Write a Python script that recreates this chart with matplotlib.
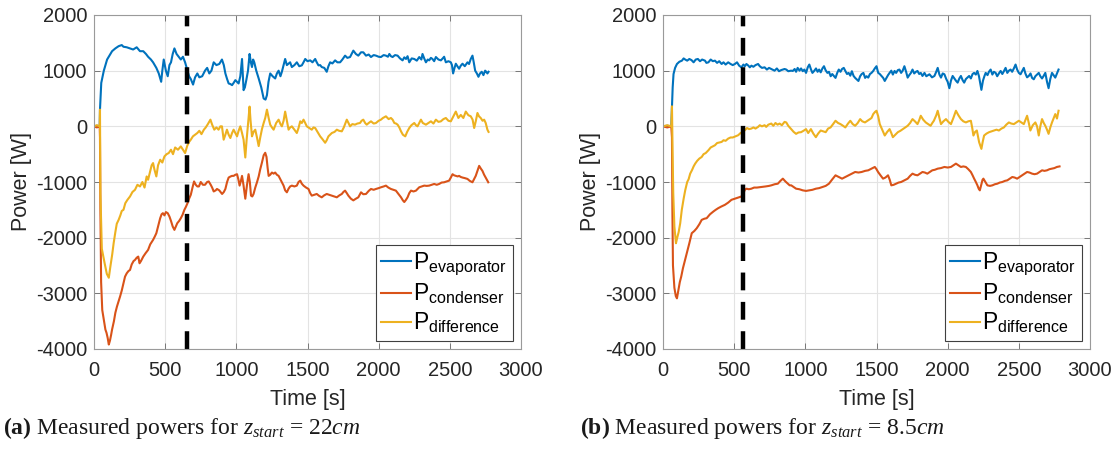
import numpy as np
import matplotlib.pyplot as plt

plt.rcParams["font.family"] = ["Liberation Sans", "DejaVu Sans"]
plt.rcParams["axes.unicode_minus"] = False
plt.rcParams["mathtext.fontset"] = "custom"
plt.rcParams["mathtext.rm"] = "Liberation Serif"
plt.rcParams["mathtext.it"] = "Liberation Serif:italic"
plt.rcParams["mathtext.bf"] = "Liberation Serif:bold"
plt.rcParams["mathtext.sf"] = "Liberation Sans"

# (time [s], power [W]) samples, run (a): z_start = 22 cm
evap_a = [(0, 0), (20, 10), (40, 0), (42, 300), (51, 780), (69, 1000), (92, 1200), (127, 1350), (150, 1400),
          (173, 1440), (195, 1460), (207, 1430), (230, 1420), (253, 1400), (275, 1380), (300, 1420), (323, 1350),
          (346, 1350), (365, 1300), (380, 1250), (400, 1200), (415, 1150), (438, 1050), (455, 950), (472, 800),
          (480, 1000), (490, 1200), (505, 1000), (518, 900), (530, 1100), (541, 1150), (553, 1300), (565, 1400),
          (580, 1300), (595, 1250), (610, 1200), (625, 1250), (640, 1150), (657, 1000), (668, 900), (680, 850),
          (696, 750), (710, 880), (726, 950), (740, 880), (760, 900), (780, 1000), (795, 1050), (810, 950),
          (825, 1000), (841, 1150), (860, 1100), (880, 1120), (899, 1200), (912, 1100), (923, 950), (935, 850),
          (946, 770), (958, 760), (970, 740), (981, 780), (993, 830), (1005, 800), (1016, 770), (1028, 900),
          (1040, 1210), (1051, 650), (1060, 700), (1070, 830), (1082, 1000), (1093, 1300), (1102, 1150),
          (1110, 1065), (1118, 1200), (1126, 1150), (1140, 1000), (1157, 860), (1175, 700), (1192, 500),
          (1205, 480), (1215, 560), (1226, 800), (1238, 950), (1255, 900), (1273, 860), (1285, 950), (1297, 1000),
          (1310, 900), (1320, 980), (1332, 1100), (1343, 1210), (1355, 1100), (1367, 1125), (1378, 1150),
          (1390, 1065), (1408, 1100), (1425, 1150), (1442, 1080), (1460, 1095), (1472, 1150), (1484, 1210),
          (1500, 1170), (1519, 1185), (1535, 1150), (1554, 1210), (1565, 1150), (1577, 1095), (1589, 1100),
          (1600, 1065), (1618, 1050), (1635, 980), (1647, 1080), (1659, 1150), (1675, 1130), (1694, 1185),
          (1710, 1150), (1729, 1150), (1745, 1200), (1764, 1270), (1780, 1230), (1799, 1245), (1810, 1300),
          (1822, 1360), (1840, 1300), (1857, 1270), (1876, 1330), (1892, 1330), (1911, 1270), (1930, 1290),
          (1946, 1245), (1965, 1280), (1981, 1270), (2000, 1250), (2016, 1245), (2035, 1280), (2051, 1270),
          (2065, 1250), (2075, 1300), (2086, 1260), (2098, 1245), (2115, 1280), (2133, 1270), (2150, 1220),
          (2168, 1185), (2180, 1240), (2192, 1210), (2203, 1260), (2215, 1150), (2232, 1220), (2250, 1210),
          (2268, 1180), (2285, 1245), (2300, 1200), (2308, 1300), (2320, 1220), (2332, 1150), (2345, 1200),
          (2355, 1185), (2367, 1230), (2378, 1210), (2390, 1170), (2402, 1245), (2420, 1200), (2437, 1185),
          (2450, 1220), (2460, 1250), (2472, 1150), (2490, 1170), (2507, 1150), (2515, 1100), (2523, 950),
          (2533, 1050), (2542, 1125), (2553, 1080), (2565, 1035), (2577, 1090), (2589, 1125), (2605, 1080),
          (2624, 1150), (2635, 1120), (2647, 1210), (2659, 1270), (2668, 1150), (2678, 1000), (2690, 950),
          (2701, 890), (2712, 950), (2724, 980), (2736, 920), (2748, 1000), (2756, 980), (2764, 950), (2772, 980)]

cond_a = [(0, 0), (20, -20), (40, 0), (42, -200), (45, -1500), (50, -2800), (58, -3300), (69, -3470), (80, -3650),
          (88, -3710), (96, -3800), (104, -3920), (112, -3850), (120, -3750), (127, -3650), (140, -3500),
          (150, -3350), (161, -3240), (172, -3150), (184, -3050), (195, -2950), (207, -2820), (218, -2700),
          (230, -2640), (242, -2600), (253, -2580), (265, -2480), (278, -2420), (288, -2400), (300, -2360),
          (311, -2340), (320, -2460), (330, -2420), (346, -2340), (362, -2280), (380, -2220), (395, -2120),
          (415, -2040), (427, -1980), (438, -1920), (450, -1800), (465, -1650), (475, -1580), (484, -1560),
          (495, -1600), (505, -1540), (518, -1560), (530, -1620), (541, -1700), (553, -1800), (565, -1860),
          (575, -1800), (585, -1740), (598, -1700), (610, -1650), (622, -1590), (635, -1500), (645, -1450),
          (657, -1380), (668, -1300), (680, -1230), (692, -1100), (703, -990), (715, -1050), (726, -1080),
          (737, -1080), (750, -1000), (765, -1050), (780, -1050), (795, -1000), (806, -990), (820, -1050),
          (830, -1100), (841, -1170), (855, -1150), (864, -1125), (880, -1150), (900, -1215), (912, -1180),
          (923, -1125), (935, -1000), (946, -920), (960, -900), (970, -890), (981, -890), (993, -870),
          (1005, -860), (1014, -950), (1023, -1065), (1032, -980), (1040, -890), (1050, -1050), (1063, -1300),
          (1075, -1050), (1086, -860), (1095, -1000), (1103, -1245), (1112, -1260), (1121, -1215), (1133, -1100),
          (1145, -1005), (1157, -900), (1168, -770), (1180, -650), (1192, -520), (1203, -475), (1212, -550),
          (1220, -750), (1227, -890), (1238, -870), (1250, -830), (1262, -850), (1273, -830), (1285, -870),
          (1297, -890), (1315, -980), (1332, -1065), (1343, -1150), (1355, -1185), (1367, -1120), (1378, -1080),
          (1390, -1065), (1408, -1080), (1425, -1065), (1437, -1000), (1449, -975), (1460, -1030), (1472, -1065),
          (1490, -1100), (1507, -1125), (1519, -1200), (1530, -1245), (1548, -1230), (1565, -1215), (1582, -1250),
          (1600, -1275), (1617, -1240), (1635, -1215), (1652, -1230), (1671, -1245), (1688, -1260), (1706, -1275),
          (1724, -1240), (1741, -1215), (1752, -1180), (1764, -1155), (1776, -1200), (1787, -1245), (1805, -1300),
          (1822, -1330), (1840, -1300), (1857, -1275), (1876, -1185), (1892, -1220), (1911, -1215), (1930, -1160),
          (1946, -1125), (1965, -1140), (1981, -1125), (2000, -1110), (2016, -1095), (2035, -1080), (2051, -1065),
          (2068, -1100), (2086, -1125), (2104, -1140), (2121, -1155), (2140, -1220), (2157, -1275), (2170, -1330),
          (2180, -1360), (2192, -1320), (2203, -1275), (2215, -1200), (2227, -1155), (2245, -1170), (2262, -1155),
          (2275, -1120), (2285, -1095), (2302, -1080), (2320, -1065), (2338, -1070), (2355, -1065), (2372, -1050),
          (2390, -1035), (2408, -1050), (2425, -1035), (2442, -1010), (2460, -1005), (2478, -990), (2495, -975),
          (2507, -920), (2519, -860), (2530, -880), (2542, -890), (2555, -900), (2565, -890), (2577, -910),
          (2589, -920), (2605, -930), (2624, -945), (2640, -980), (2659, -1005), (2670, -950), (2682, -890),
          (2694, -800), (2706, -710), (2718, -760), (2729, -800), (2741, -870), (2752, -920), (2760, -960),
          (2770, -1005)]

diff_a = [(0, 0), (20, 20), (40, 0), (42, 300), (45, -1200), (55, -2200), (74, -2450), (90, -2650), (104, -2720),
          (115, -2520), (128, -2300), (138, -2100), (150, -1900), (160, -1750), (173, -1680), (185, -1600),
          (195, -1520), (207, -1500), (220, -1380), (235, -1320), (253, -1260), (270, -1180), (288, -1140),
          (305, -1050), (323, -1080), (340, -1000), (355, -1100), (370, -900), (380, -960), (395, -800),
          (405, -700), (415, -660), (425, -780), (438, -900), (450, -700), (465, -600), (480, -650), (495, -540),
          (510, -500), (525, -480), (541, -420), (555, -500), (570, -380), (590, -420), (610, -360), (625, -420),
          (640, -480), (655, -350), (668, -280), (680, -240), (695, -180), (710, -150), (726, -120), (740, -80),
          (755, -140), (772, -60), (785, -20), (800, 40), (818, 120), (830, 30), (845, -60), (860, -20),
          (875, -60), (888, 0), (899, 0), (911, -240), (923, -150), (934, -60), (946, -150), (958, -210),
          (970, -120), (981, -60), (993, -120), (1005, -180), (1016, -80), (1028, 0), (1040, -120), (1051, -240),
          (1063, -560), (1072, -250), (1079, -60), (1086, 150), (1093, 355), (1100, 100), (1110, -180),
          (1121, -100), (1133, -60), (1145, -200), (1157, -355), (1168, -200), (1180, -50), (1192, 60),
          (1203, 150), (1215, 300), (1227, 150), (1238, 30), (1250, -20), (1262, -60), (1280, 60), (1297, 120),
          (1310, 40), (1320, 0), (1332, 100), (1343, 265), (1355, 100), (1367, -60), (1378, -20), (1390, 0),
          (1408, -60), (1425, -120), (1437, -30), (1449, 90), (1460, 60), (1472, 120), (1484, 60), (1495, 0),
          (1512, -30), (1530, -60), (1542, -20), (1554, -30), (1570, -100), (1589, -180), (1605, -230),
          (1624, -295), (1635, -250), (1647, -180), (1659, -150), (1671, -120), (1690, -100), (1706, -60),
          (1722, -80), (1741, -90), (1755, -20), (1764, 40), (1776, 120), (1788, 60), (1799, 0), (1815, 40),
          (1834, 30), (1850, 50), (1869, 60), (1880, 100), (1892, 120), (1905, 60), (1916, 30), (1930, 60),
          (1946, 90), (1965, 50), (1981, 60), (2000, 100), (2016, 120), (2030, 150), (2051, 180), (2070, 130),
          (2086, 150), (2098, 120), (2110, 60), (2122, 50), (2133, 30), (2145, -20), (2157, -90), (2170, -150),
          (2187, -180), (2200, -100), (2215, -30), (2230, 20), (2250, 60), (2262, 20), (2273, 0), (2285, 60),
          (2297, 120), (2310, 60), (2332, 30), (2350, 60), (2367, 90), (2385, 50), (2402, 120), (2420, 80),
          (2437, 90), (2455, 130), (2472, 150), (2490, 100), (2507, 90), (2525, 180), (2542, 265), (2560, 150),
          (2577, 205), (2595, 150), (2612, 265), (2630, 200), (2647, 180), (2660, 120), (2671, -30), (2683, 100),
          (2694, 240), (2705, 180), (2717, 150), (2730, 100), (2741, 120), (2752, 60), (2764, -60), (2772, -100)]

# run (b): z_start = 8.5 cm
evap_b = [(0, 0), (30, 10), (58, 0), (63, 375), (68, 700), (74, 940), (85, 1050), (98, 1120), (115, 1160),
          (133, 1180), (145, 1220), (156, 1200), (170, 1180), (185, 1210), (200, 1190), (215, 1150), (230, 1200),
          (245, 1210), (260, 1170), (275, 1200), (295, 1180), (305, 1140), (319, 1150), (335, 1200), (350, 1170),
          (365, 1180), (380, 1140), (395, 1170), (412, 1120), (425, 1150), (440, 1110), (458, 1150), (475, 1120),
          (490, 1100), (505, 1120), (520, 1150), (535, 1090), (551, 1060), (565, 1110), (575, 1080), (586, 1120),
          (600, 1090), (610, 1060), (621, 1090), (635, 1070), (650, 1100), (668, 1120), (680, 1080), (695, 1050),
          (714, 1060), (730, 1020), (745, 1050), (760, 1030), (784, 1000), (800, 1040), (815, 990), (830, 1010),
          (854, 1030), (866, 1020), (880, 990), (900, 1000), (912, 995), (925, 1030), (935, 980), (946, 1050),
          (959, 1000), (970, 1040), (982, 990), (993, 1020), (1005, 960), (1017, 1060), (1028, 1110), (1040, 1020),
          (1050, 960), (1062, 995), (1075, 1040), (1086, 980), (1097, 1020), (1108, 970), (1120, 1040),
          (1131, 1080), (1142, 1010), (1155, 960), (1166, 980), (1178, 900), (1189, 940), (1200, 905), (1212, 870),
          (1224, 960), (1235, 1020), (1247, 980), (1258, 1030), (1270, 1050), (1282, 990), (1293, 940),
          (1304, 960), (1316, 910), (1327, 990), (1339, 905), (1350, 870), (1362, 840), (1373, 815), (1385, 900),
          (1396, 940), (1408, 960), (1420, 870), (1430, 900), (1442, 875), (1454, 940), (1465, 960), (1477, 995),
          (1488, 1040), (1500, 1080), (1512, 960), (1523, 940), (1535, 905), (1547, 870), (1558, 815), (1570, 870),
          (1581, 920), (1592, 960), (1604, 1000), (1615, 930), (1627, 995), (1638, 960), (1650, 1010),
          (1661, 1020), (1673, 960), (1684, 1000), (1696, 1080), (1708, 980), (1719, 875), (1730, 920),
          (1742, 960), (1753, 1020), (1765, 950), (1777, 980), (1788, 995), (1800, 940), (1811, 960), (1823, 905),
          (1837, 960), (1850, 900), (1872, 935), (1890, 880), (1907, 905), (1918, 970), (1930, 1050), (1942, 930),
          (1953, 875), (1965, 950), (1977, 935), (1990, 850), (2000, 800), (2012, 685), (2023, 820), (2035, 905),
          (2047, 860), (2058, 820), (2070, 785), (2082, 860), (2093, 905), (2105, 830), (2116, 785), (2128, 850),
          (2140, 880), (2151, 905), (2163, 860), (2175, 940), (2186, 960), (2198, 930), (2209, 995), (2220, 900),
          (2228, 780), (2237, 655), (2248, 820), (2258, 900), (2267, 960), (2280, 920), (2290, 980), (2302, 1020),
          (2314, 930), (2325, 980), (2337, 960), (2348, 900), (2360, 950), (2372, 995), (2384, 940), (2395, 990),
          (2407, 1050), (2419, 960), (2430, 1000), (2442, 1020), (2453, 980), (2465, 1040), (2477, 1110),
          (2488, 1020), (2500, 960), (2512, 935), (2523, 990), (2535, 1050), (2546, 950), (2558, 880), (2570, 905),
          (2582, 950), (2593, 870), (2605, 845), (2616, 900), (2628, 930), (2640, 960), (2651, 900), (2663, 860),
          (2674, 905), (2686, 960), (2698, 800), (2709, 685), (2721, 850), (2733, 960), (2744, 920), (2756, 875),
          (2768, 950), (2779, 1020)]

cond_b = [(0, 0), (30, -20), (58, 0), (63, -200), (66, -1500), (70, -2500), (80, -2900), (90, -3050), (98, -3090),
          (108, -2950), (118, -2800), (128, -2700), (140, -2550), (155, -2400), (167, -2280), (185, -2100),
          (202, -1920), (220, -1880), (237, -1830), (255, -1760), (272, -1680), (290, -1660), (307, -1650),
          (330, -1580), (354, -1530), (370, -1500), (388, -1470), (410, -1440), (435, -1410), (458, -1370),
          (481, -1320), (505, -1300), (530, -1280), (551, -1260), (565, -1200), (575, -1140), (586, -1120),
          (603, -1130), (621, -1120), (640, -1100), (660, -1100), (691, -1090), (720, -1080), (745, -1070),
          (761, -1060), (785, -1040), (807, -1030), (825, -980), (842, -940), (860, -990), (877, -1030),
          (890, -1060), (901, -1060), (918, -1090), (935, -1120), (958, -1130), (982, -1150), (1005, -1160),
          (1028, -1150), (1050, -1140), (1074, -1120), (1097, -1110), (1120, -1090), (1143, -1070), (1166, -1030),
          (1190, -950), (1212, -880), (1235, -910), (1258, -940), (1281, -910), (1304, -880), (1327, -850),
          (1350, -820), (1373, -830), (1396, -820), (1420, -800), (1442, -790), (1465, -760), (1488, -730),
          (1500, -770), (1511, -820), (1528, -880), (1546, -940), (1563, -920), (1581, -880), (1593, -960),
          (1604, -1060), (1621, -1050), (1638, -1030), (1655, -1010), (1673, -1000), (1696, -970), (1719, -940),
          (1736, -890), (1753, -850), (1770, -870), (1788, -880), (1805, -850), (1823, -820), (1840, -830),
          (1857, -850), (1875, -820), (1892, -790), (1910, -780), (1930, -760), (1953, -750), (1977, -730),
          (2000, -740), (2023, -730), (2040, -700), (2058, -670), (2075, -700), (2093, -730), (2110, -720),
          (2128, -730), (2145, -770), (2163, -820), (2175, -880), (2186, -940), (2198, -1000), (2209, -1060),
          (2218, -1120), (2226, -1150), (2236, -1050), (2245, -960), (2251, -940), (2265, -1000), (2279, -1060),
          (2297, -1070), (2314, -1060), (2332, -1040), (2349, -1030), (2366, -1010), (2384, -1000), (2402, -980),
          (2419, -970), (2436, -940), (2454, -910), (2471, -920), (2488, -940), (2506, -910), (2523, -880),
          (2540, -850), (2558, -820), (2575, -830), (2593, -850), (2610, -860), (2628, -850), (2645, -820),
          (2663, -790), (2680, -800), (2698, -790), (2715, -770), (2733, -760), (2750, -750), (2767, -730),
          (2786, -720)]

diff_b = [(0, 0), (30, 20), (58, 0), (63, 360), (67, -400), (72, -1200), (80, -1800), (91, -2100), (100, -2000),
          (110, -1900), (121, -1740), (132, -1500), (145, -1300), (156, -1150), (170, -1000), (180, -950),
          (191, -850), (205, -780), (215, -720), (226, -670), (240, -620), (255, -580), (272, -550), (285, -500),
          (300, -480), (319, -430), (335, -380), (350, -360), (365, -340), (380, -300), (395, -290), (412, -280),
          (425, -250), (440, -260), (458, -220), (475, -200), (490, -200), (510, -180), (528, -160), (545, -120),
          (560, -100), (575, -70), (590, -30), (605, -50), (621, -40), (635, -20), (650, -40), (668, -10),
          (680, 20), (695, 0), (714, 20), (725, -10), (740, 30), (761, 50), (775, 10), (790, 60), (805, 30),
          (819, 50), (835, 20), (854, 80), (866, 70), (880, 10), (901, -50), (918, -100), (935, -135), (952, -110),
          (970, -105), (987, -80), (1005, -50), (1020, -120), (1039, -50), (1056, -130), (1074, -195),
          (1090, -130), (1108, -75), (1125, -90), (1143, -105), (1160, -40), (1177, -20), (1195, 40), (1212, 100),
          (1230, 60), (1247, 40), (1265, 10), (1281, -20), (1300, 50), (1316, 100), (1333, 40), (1350, 10),
          (1368, 60), (1385, 130), (1400, 90), (1419, 70), (1437, 100), (1454, 130), (1465, 150), (1477, 220),
          (1490, 260), (1500, 280), (1512, 180), (1523, 40), (1540, -60), (1558, -165), (1575, -100), (1592, -50),
          (1604, -120), (1615, -195), (1632, -150), (1650, -105), (1668, -80), (1685, -50), (1702, -20),
          (1719, 10), (1736, 60), (1753, 130), (1770, 90), (1788, 40), (1800, 110), (1811, 190), (1828, 120),
          (1846, 70), (1863, 40), (1880, 10), (1892, 60), (1903, 100), (1920, 200), (1930, 280), (1942, 150),
          (1953, 40), (1970, 90), (1988, 130), (2005, 80), (2023, 40), (2040, 150), (2058, 280), (2075, 200),
          (2093, 130), (2110, 90), (2128, 70), (2145, 90), (2163, 100), (2172, -20), (2181, -165), (2193, -100),
          (2205, -75), (2213, -180), (2221, -285), (2230, -350), (2237, -405), (2246, -280), (2256, -165),
          (2273, -130), (2291, -105), (2308, -90), (2326, -75), (2343, -60), (2360, -75), (2378, -40), (2395, -20),
          (2412, 30), (2430, 70), (2447, 50), (2465, 40), (2482, 70), (2500, 100), (2518, 70), (2535, 40),
          (2547, 120), (2558, 190), (2570, 60), (2581, -75), (2598, 20), (2616, 70), (2628, 0), (2640, -165),
          (2651, 0), (2663, 130), (2675, 60), (2686, 10), (2698, -60), (2709, -135), (2721, -20), (2733, 70),
          (2745, 150), (2756, 220), (2768, 140), (2779, 280)]

# time at which the measurement window starts
t_start_a = 650
t_start_b = 565

series_labels = [r"P$_{\mathsf{evaporator}}$", r"P$_{\mathsf{condenser}}$", r"P$_{\mathsf{difference}}$"]
series_colors = ["#0072BD", "#D95319", "#EDB120"]
captions = [r"$\mathbf{(a)}$ Measured powers for $z_{start}$ = 22$cm$",
            r"$\mathbf{(b)}$ Measured powers for $z_{start}$ = 8.5$cm$"]

W, H = 1120, 454
fig = plt.figure(figsize=(W / 100, H / 100), dpi=100)

panels = [
    ((evap_a, cond_a, diff_a), t_start_a, 94, 3),
    ((evap_b, cond_b, diff_b), t_start_b, 663, 580),
]

for (runs, t_start, ax_left, cap_x), caption in zip(panels, captions):
    ax = fig.add_axes([ax_left / W, 1 - 349 / H, 427 / W, 334 / H])
    for run, color, label in zip(runs, series_colors, series_labels):
        t, p = np.array(run, dtype=float).T
        ax.plot(t, p, color=color, lw=1.5, label=label)
    ax.axvline(t_start, color="k", lw=3.2, dashes=(4.0, 2.6))

    ax.set_xlim(0, 3000)
    ax.set_ylim(-4000, 2000)
    ax.set_xticks(np.arange(0, 3001, 500))
    ax.set_yticks(np.arange(-4000, 2001, 1000))
    ax.grid(True, color="#e3e3e3", lw=0.8)
    ax.set_axisbelow(True)
    ax.tick_params(direction="in", length=4, width=0.6, color="#666666",
                   labelsize=14.5, labelcolor="#262626", top=True, right=True)
    ax.tick_params(axis="x", pad=9)
    ax.tick_params(axis="y", pad=5)
    for s in ax.spines.values():
        s.set_color("#9a9a9a")
        s.set_linewidth(0.8)
    ax.set_xlabel("Time [s]", fontsize=15.5, color="#262626", labelpad=6)
    ax.set_ylabel("Power [W]", fontsize=15.5, color="#262626", labelpad=3)

    leg = ax.legend(loc="lower right", fontsize=16.5, frameon=True, fancybox=False, framealpha=1,
                    edgecolor="#404040", borderpad=0.25, labelspacing=0.2, handlelength=1.3,
                    handletextpad=0.1, borderaxespad=0.35)
    leg.get_frame().set_linewidth(0.8)

    fig.text(cap_x / W, 1 - 434 / H, caption, fontsize=17, family="Liberation Serif",
             color="#1a1a1a", ha="left", va="baseline")

fig.savefig("out.png", dpi=100)
